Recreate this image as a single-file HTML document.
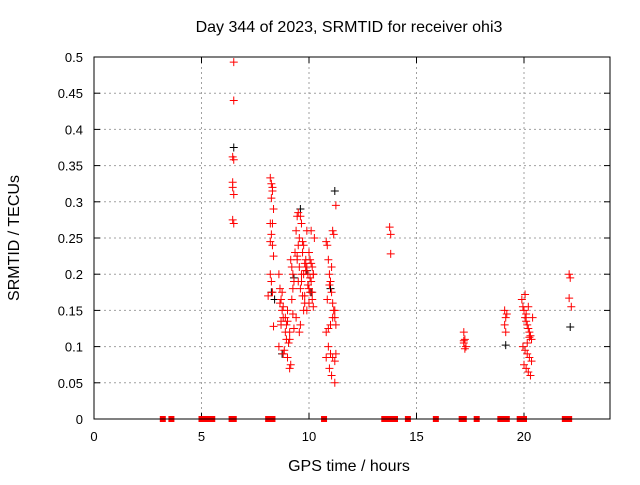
<!DOCTYPE html>
<html><head><meta charset="utf-8"><style>
body{margin:0;background:#fff}
svg{font-family:"Liberation Sans",sans-serif;font-size:13px}
.big{font-size:16px}
</style></head><body>
<svg id="chart" width="640" height="480">
<text class="big" x="349" y="32" text-anchor="middle">Day 344 of 2023, SRMTID for receiver ohi3</text>
<text class="big" x="349" y="471" text-anchor="middle">GPS time / hours</text>
<text class="big" transform="translate(19,238) rotate(-90)" text-anchor="middle">SRMTID / TECUs</text>
<g id="grid"></g><g id="ticks"></g><g id="marks"></g>
<rect x="94" y="57" width="516" height="362" fill="none" stroke="#000" stroke-width="1"/>
</svg>
<script>
const xTicks=[0,5,10,15,20];
const yTicks=[0,0.05,0.1,0.15,0.2,0.25,0.3,0.35,0.4,0.45,0.5];
const yTickLabels=["0","0.05","0.1","0.15","0.2","0.25","0.3","0.35","0.4","0.45","0.5"];
const redHours=[6.5,6.5,6.45,6.5,6.45,6.45,6.5,6.45,6.5,
8.2,8.25,8.3,8.3,8.25,8.35,8.2,8.3,8.25,8.2,8.3,8.35,8.2,8.25,8.3,8.1,8.35,
8.6,8.65,8.7,8.75,8.8,8.7,8.9,8.95,8.6,8.8,8.85,9.0,9.05,9.1,8.7,8.9,9.0,8.65,8.75,8.95,9.1,9.15,9.2,9.25,9.3,9.2,9.15,9.25,9.3,9.1,9.0,8.8,9.35,9.25,
9.4,9.45,9.5,9.55,9.6,9.65,9.7,9.75,9.8,9.85,9.9,9.95,10.0,10.05,10.1,10.15,10.2,10.25,9.5,9.6,9.7,9.8,9.9,10.0,10.1,10.2,9.45,9.55,9.65,9.75,9.85,9.95,10.05,10.15,9.4,9.6,9.8,10.0,10.2,9.5,9.7,9.9,10.1,9.55,9.75,9.95,10.15,9.65,9.85,10.05,9.45,
10.8,10.85,10.9,10.95,11.0,11.05,11.1,11.15,11.2,11.25,10.8,10.9,11.0,11.1,11.2,10.85,10.95,11.05,11.15,11.25,10.9,11.0,11.1,11.2,10.95,11.05,11.2,11.25,10.8,11.1,
13.75,13.8,13.8,
17.2,17.25,17.2,17.3,17.25,17.2,
19.1,19.15,19.1,19.15,19.2,
19.9,19.95,20.0,20.05,20.1,20.15,20.2,20.25,20.3,20.35,19.95,20.05,20.15,20.25,20.35,20.0,20.1,20.2,20.3,20.4,20.05,20.15,20.25,20.1,20.2,
22.1,22.15,22.1,22.2];
const redValues=[0.493,0.44,0.362,0.358,0.327,0.32,0.31,0.275,0.27,
0.333,0.325,0.32,0.315,0.305,0.29,0.27,0.27,0.255,0.245,0.24,0.225,0.2,0.19,0.175,0.17,0.128,
0.2,0.18,0.165,0.15,0.14,0.13,0.12,0.11,0.1,0.09,0.095,0.085,0.105,0.12,0.135,0.14,0.15,0.16,0.175,0.13,0.07,0.075,0.165,0.18,0.19,0.21,0.22,0.145,0.125,0.11,0.135,0.155,0.23,0.2,
0.26,0.28,0.285,0.25,0.28,0.27,0.23,0.24,0.215,0.22,0.21,0.2,0.23,0.22,0.215,0.21,0.2,0.25,0.19,0.18,0.17,0.16,0.15,0.18,0.19,0.2,0.22,0.21,0.19,0.2,0.205,0.185,0.175,0.165,0.14,0.13,0.17,0.16,0.155,0.24,0.245,0.26,0.26,0.12,0.15,0.185,0.175,0.2,0.21,0.195,0.225,
0.245,0.24,0.22,0.2,0.19,0.175,0.16,0.15,0.14,0.13,0.12,0.125,0.13,0.14,0.15,0.165,0.185,0.21,0.255,0.295,0.1,0.09,0.085,0.08,0.07,0.06,0.05,0.09,0.085,0.26,
0.265,0.255,0.228,
0.12,0.11,0.105,0.1,0.097,0.108,
0.15,0.14,0.13,0.12,0.145,
0.165,0.155,0.15,0.14,0.135,0.13,0.125,0.12,0.115,0.11,0.1,0.095,0.09,0.085,0.08,0.075,0.07,0.065,0.06,0.14,0.172,0.105,0.113,0.145,0.155,
0.2,0.195,0.167,0.155];
const blackHours=[6.5,8.25,8.4,9.3,9.6,10.1,11.0,11.2,19.15,22.15,8.75,9.9];
const blackValues=[0.375,0.175,0.165,0.195,0.29,0.175,0.18,0.315,0.102,0.127,0.09,0.205];
const zeroHours=[3.2,3.6,5.0,5.1,5.3,5.5,6.4,6.5,8.1,8.3,10.7,13.5,13.6,13.8,14.0,14.6,15.9,17.1,17.2,17.8,18.9,19.1,19.2,19.8,20.0,21.9,22.1];

const NS="http://www.w3.org/2000/svg";
const X=h=>94+h*(516/24);
const Y=v=>419-v*(362/0.5);
const grid=document.getElementById('grid'),ticks=document.getElementById('ticks'),marks=document.getElementById('marks');
function mk(tag,attrs,parent){const e=document.createElementNS(NS,tag);for(const k in attrs)e.setAttribute(k,attrs[k]);parent.appendChild(e);return e;}
xTicks.forEach(t=>{
  const x=X(t);
  if(t>0){const g=mk('line',{x1:x,x2:x,y1:57,y2:419,stroke:'#a0a0a0','stroke-dasharray':'2,3'},grid);
  
  }
  mk('line',{x1:x,x2:x,y1:419,y2:413,stroke:'#000'},ticks);
  mk('line',{x1:x,x2:x,y1:57,y2:63,stroke:'#000'},ticks);
  const l=mk('text',{x:x,y:441,'text-anchor':'middle'},ticks);l.textContent=t;
  
  
});
yTicks.forEach((t,i)=>{
  const y=Y(t);
  if(i>0&&i<yTicks.length-1){const g=mk('line',{x1:94,x2:610,y1:y,y2:y,stroke:'#a0a0a0','stroke-dasharray':'2,3'},grid);
  
  }
  mk('line',{x1:94,x2:100,y1:y,y2:y,stroke:'#000'},ticks);
  mk('line',{x1:610,x2:604,y1:y,y2:y,stroke:'#000'},ticks);
  const l=mk('text',{x:83,y:y+5,'text-anchor':'end'},ticks);l.textContent=yTickLabels[i];
  
  
});
function plus(h,v,color,name,w){
  const x=X(h),y=Y(v);
  const p=mk('path',{d:`M${x-4},${y}H${x+4}M${x},${y-4}V${y+4}`,stroke:color,'stroke-width':w,fill:'none'},marks);
  
  
}
blackHours.forEach((h,i)=>plus(h,blackValues[i],'#000','black-point',1));
redHours.forEach((h,i)=>plus(h,redValues[i],'#f00','red-point',1));
zeroHours.forEach(h=>{
  const r=mk('rect',{x:X(h)-3,y:Y(0)-3,width:6,height:6,fill:'#f00'},marks);
  
  
});
</script>
</body></html>
